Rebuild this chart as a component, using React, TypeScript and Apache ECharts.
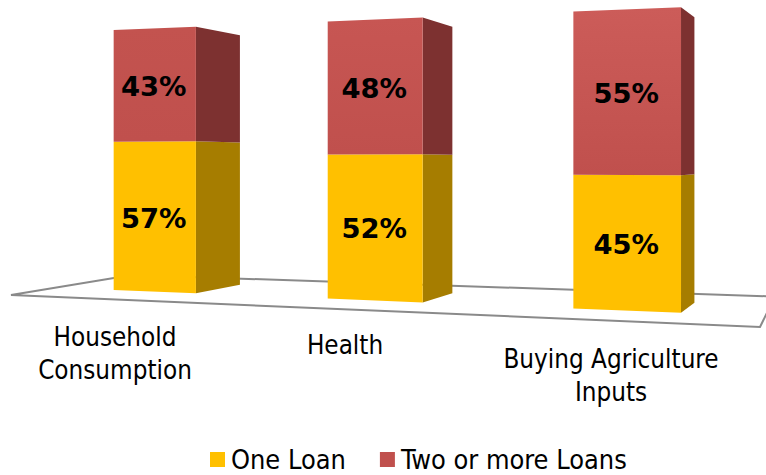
import React, { useEffect, useRef } from "react";
import * as echarts from "echarts";

const categories = ["Household\nConsumption", "Health", "Buying Agriculture\nInputs"];
const oneLoan = [57, 52, 45];
const twoOrMore = [43, 48, 55];
const seriesNames = ["One Loan", "Two or more Loans"];

const FONT = "'DejaVu Sans Condensed', 'DejaVu Sans', sans-serif";
const BOLD_FONT = "'DejaVu Sans', sans-serif";
const W = 766;
const H = 475;

// Hidden cartesian plane
const GRID = { left: 56.25, top: 30, width: 708.6, height: 260 };
const BAND = GRID.width / 3;
const BAR_WIDTH = 0.402; // in bands

// Perspective warp of the plane onto the picture
const warpX = (px: number) => {
  const u = (px - GRID.left) / BAND;
  return 55.8 + 188.8 * u + 15.8 * u * u;
};
const HORIZON = 160;
const frontH = (x: number) => 260 + 0.08 * (x - 113);
const warpY = (x: number, py: number) => {
  const f = (GRID.top + GRID.height - py) / GRID.height;
  return HORIZON + frontH(x) * (0.5 - f);
};
const depthX = (x: number) => 44 - 0.0631 * (x - 196);
const DEPTH_SCALE = 0.935;
const backY = (y: number) => HORIZON + (y - HORIZON) * DEPTH_SCALE;

// Lighter top tone of each bar's upper front face
const redTops = ["#C3534F", "#C75653", "#CC5C59"];

const makeRenderItem = (front: (cat: number) => any, side: string) => (_: any, api: any) => {
  const cat = api.value(0);
  const lo = api.value(1);
  const hi = api.value(2);
  const [cx, pyLo] = api.coord([cat, lo]);
  const [, pyHi] = api.coord([cat, hi]);
  const half = (api.size([1, 0])[0] * BAR_WIDTH) / 2;
  const xl = warpX(cx - half);
  const xr = warpX(cx + half);
  const xb = xr + depthX(xr);
  const yrLo = warpY(xr, pyLo);
  const yrHi = warpY(xr, pyHi);
  const yllo = warpY(xl, pyLo);
  const ylhi = warpY(xl, pyHi);
  return {
    type: "group",
    children: [
      {
        type: "polygon",
        shape: { points: [[xr, yrLo], [xr, yrHi], [xb, backY(yrHi)], [xb, backY(yrLo)]] },
        style: { fill: side },
      },
      {
        type: "polygon",
        shape: { points: [[xl, yllo], [xr, yrLo], [xr, yrHi], [xl, ylhi]] },
        style: { fill: front(cat) },
      },
      {
        type: "text",
        style: {
          x: (xl + xr) / 2 - 1,
          y: (yllo + ylhi + yrLo + yrHi) / 4 + 1.5,
          text: `${hi - lo}%`,
          fill: "#000",
          font: `bold 27.4px ${BOLD_FONT}`,
          align: "center",
          verticalAlign: "middle",
        },
      },
    ],
  };
};

const categoryLabelAnchors = [
  { x: 115, y: 353 },
  { x: 345, y: 344.5 },
  { x: 611, y: 375.5 },
];

export default function App() {
  const ref = useRef<HTMLDivElement>(null);
  useEffect(() => {
    const chart = echarts.init(ref.current!, undefined, { renderer: "svg" });
    const oneData = oneLoan.map((v, i) => [i, 0, v]);
    const twoData = twoOrMore.map((v, i) => [i, oneLoan[i], oneLoan[i] + v]);
    chart.setOption({
      animation: false,
      backgroundColor: "#fff",
      grid: GRID,
      xAxis: { type: "category", data: categories, show: false },
      yAxis: { type: "value", min: 0, max: 100, show: false },
      legend: {
        data: seriesNames,
        left: 205,
        top: 441,
        icon: "rect",
        itemWidth: 15,
        itemHeight: 15,
        itemGap: 34,
        textStyle: { fontFamily: FONT, fontSize: 26.9, color: "#000", padding: [0, 0, 0, 1] },
      },
      graphic: [
        {
          type: "polygon",
          z: 0,
          shape: { points: [[11, 295], [132, 275], [775, 296.5], [760, 327]] },
          style: { fill: "#fff", stroke: "#8a8a8a", lineWidth: 2 },
        },
        ...categories.map((c, i) => ({
          type: "text",
          x: categoryLabelAnchors[i].x,
          y: categoryLabelAnchors[i].y,
          style: {
            text: c,
            fill: "#000",
            font: `25.8px ${FONT}`,
            lineHeight: 33,
            align: "center",
            verticalAlign: "middle",
          },
        })),
      ],
      series: [
        {
          type: "custom",
          name: seriesNames[0],
          itemStyle: { color: "#FFC000" },
          renderItem: makeRenderItem(() => "#FFC000", "#A67D00"),
          data: oneData,
          encode: { x: 0, y: [1, 2] },
          z: 3,
        },
        {
          type: "custom",
          name: seriesNames[1],
          itemStyle: { color: "#C0504D" },
          renderItem: makeRenderItem(
            (cat) =>
              new echarts.graphic.LinearGradient(0, 0, 0, 1, [
                { offset: 0, color: redTops[cat] },
                { offset: 1, color: "#C0504D" },
              ]),
            "#7D3130"
          ),
          data: twoData,
          encode: { x: 0, y: [1, 2] },
          z: 3,
        },
      ],
    });
    return () => chart.dispose();
  }, []);
  return <div ref={ref} style={{ width: W, height: H, position: "absolute", left: 0, top: 0 }} />;
}
